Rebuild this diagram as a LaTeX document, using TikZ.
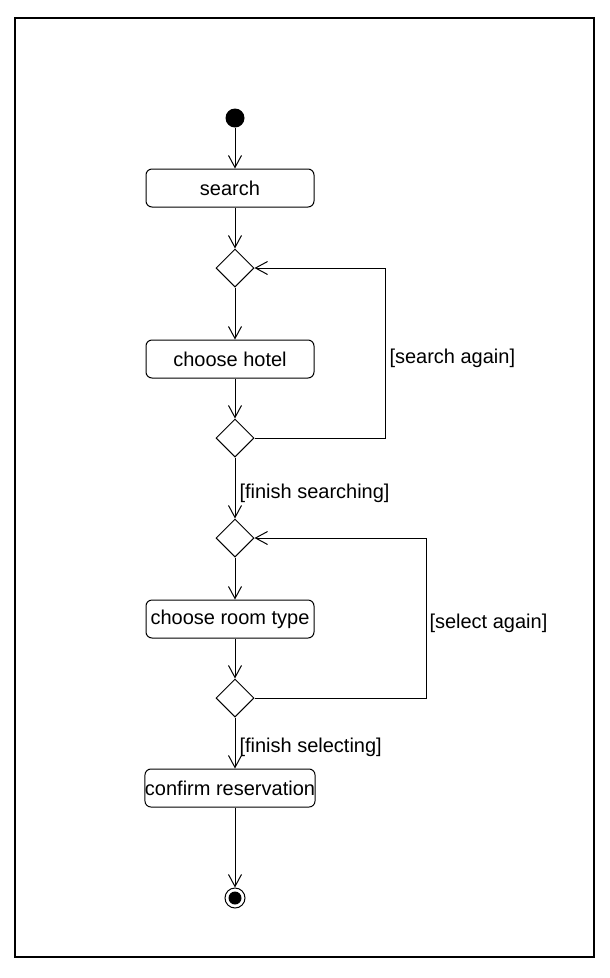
\documentclass[tikz,border=0pt]{standalone}
\usepackage{fontspec}
\setmainfont{Liberation Sans}
\usetikzlibrary{shapes.geometric,arrows.meta}
\begin{document}
\begin{tikzpicture}[x=1pt,y=-1pt, line width=1pt,
  act/.style={draw, rectangle, rounded corners=6pt, minimum width=168pt, minimum height=38pt, inner sep=0pt, font=\fontsize{20}{24}\selectfont},
  dec/.style={draw, diamond, minimum width=38pt, minimum height=38pt, inner sep=0pt},
  flow/.style={-{Straight Barb[length=12pt,width=13pt]}},
  lbl/.style={font=\fontsize{20}{24}\selectfont, anchor=west, inner sep=0pt}]
\useasboundingbox (0,0) rectangle (610,978);
\draw[line width=1.2pt] (15,18) rectangle (594,957);
\node[circle, fill, inner sep=0pt, minimum size=19pt] (start) at (235,118) {};
\node[act] (search) at (230,188) {\raisebox{-1.5pt}{search}};
\node[dec] (d1) at (235,268) {};
\node[act] (hotel) at (230,359) {\raisebox{-1.5pt}{choose hotel}};
\node[dec] (d2) at (235,438) {};
\node[dec] (d3) at (235,538) {};
\node[act] (room) at (230,619) {\raisebox{-1.5pt}{choose room type}};
\node[dec] (d4) at (235,698) {};
\node[act] (confirm) at (230,788) {\raisebox{-1.5pt}{confirm reservation}};
\node[circle, draw, fill=white, inner sep=0pt, minimum size=20pt] (end) at (235,898) {};
\fill (end.center) circle (6.5pt);
\draw[flow] (start) -- (start |- search.north);
\draw[flow] (search.south -| d1) -- (d1.north);
\draw[flow] (d1.south) -- (d1 |- hotel.north);
\draw[flow] (hotel.south -| d2) -- (d2.north);
\draw[flow] (d2.south) -- (d3.north);
\draw[flow] (d3.south) -- (d3 |- room.north);
\draw[flow] (room.south -| d4) -- (d4.north);
\draw[flow] (d4.south) -- (d4 |- confirm.north);
\draw[flow] (confirm.south -| end) -- (end.north);
\draw[flow] (d2.east) -- ++(131,0) |- (d1.east);
\draw[flow] (d4.east) -- ++(172,0) |- (d3.east);
\node[lbl] (l1) at (389,358.5) {[search again]};
\node[lbl] (l2) at (239,493.5) {[finish searching]};
\node[lbl] (l3) at (429,623.5) {[select again]};
\node[lbl] (l4) at (239,747.5) {[finish selecting]};
\end{tikzpicture}
\end{document}
